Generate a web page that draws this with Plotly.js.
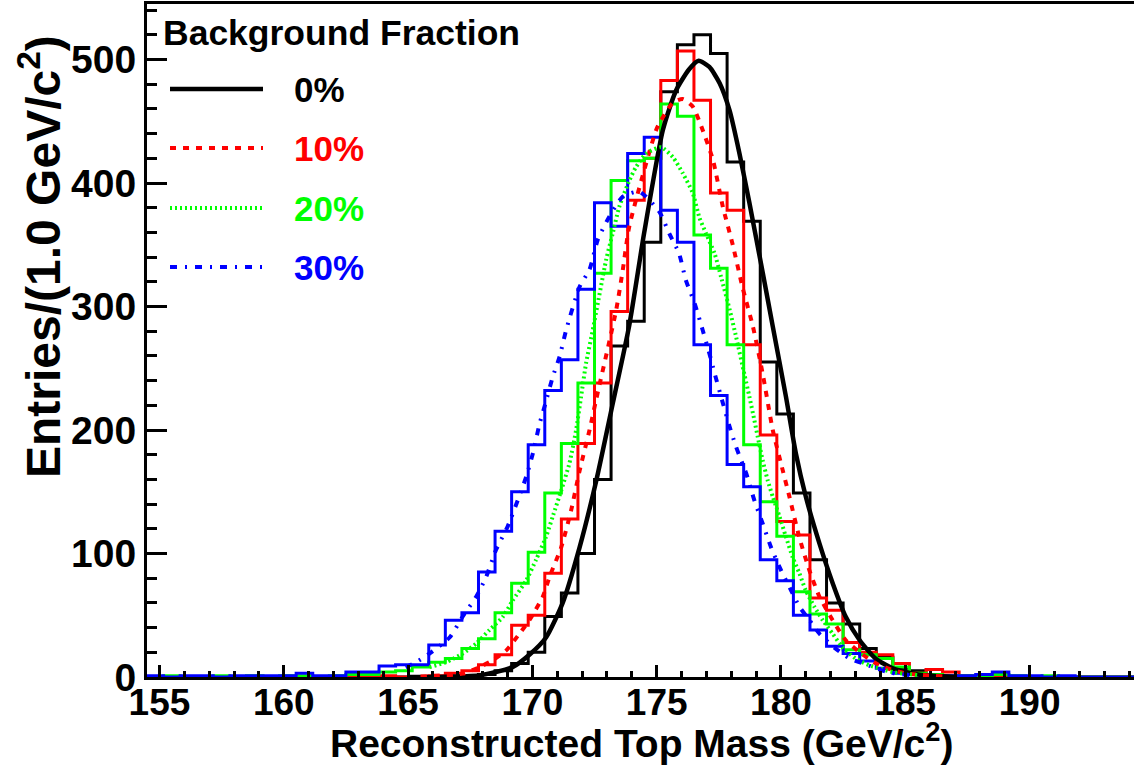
<!DOCTYPE html>
<html>
<head>
<meta charset="utf-8">
<script src="https://cdn.plot.ly/plotly-3.0.1.min.js"></script>
<style>
  html, body { margin: 0; padding: 0; background: #fff; overflow: hidden; }
  #plot { width: 1134px; height: 767px; }
</style>
</head>
<body>
<div id="plot"></div>
<script>
// histogram binning: 60 bins from 154.5 to 194.5 GeV/c^2
var binLow = 154.5;
var binWidth = 2 / 3;

// entries per bin (bin 0 starts at 154.5)
var hist0 = [0,0,0,0,0,0,0,0,0,0, 0,0,0,0,0,0,0,0,0,1,
             2,5,11,20,49,68,100,160,268,288, 352,474,512,520,505,417,369,255,213,149,
             95,60,43,23,16,7,5,2,1,1, 0,0,0,0,0,0,0,0,0,0];
var hist10 = [0,0,0,0,0,0,0,0,0,0, 0,0,0,0,1,0,0,1,3,5,
              10,18,42,50,84,128,189,238,296,386, 420,483,507,467,392,378,269,196,126,115,
              64,54,28,20,18,11,3,6,4,1, 1,0,0,0,0,0,0,0,0,0];
var hist20 = [0,1,0,0,1,0,1,0,1,1, 0,1,2,2,4,5,8,12,15,23,
              31,52,76,101,149,189,238,327,402,418, 420,464,454,358,331,269,188,142,114,69,
              51,43,22,18,15,8,3,2,1,1, 1,2,1,0,1,0,0,0,0,0];
var hist30 = [1,0,1,1,0,1,1,1,1,3, 1,1,4,4,9,10,10,26,46,52,
              85,118,150,188,232,257,314,384,365,424, 437,378,352,269,228,172,154,95,78,50,
              38,25,19,13,7,3,2,1,1,1, 2,4,1,1,0,1,0,0,0,0];

// fitted curves, points
var fit0X = [165.0, 166.5, 167.9, 169.2, 169.88, 170.55, 171.22, 171.9, 172.57, 173.24, 173.9, 174.5,
             175.25, 175.78, 176.3, 176.69, 177.12, 177.53, 177.93, 178.33, 178.73, 179.27, 179.67,
             180.2, 180.6, 181.0, 181.55, 182.08, 182.6, 183.16, 183.8, 184.5, 185.5, 187.0];
var fit0Y = [0, 0.3, 1.5, 8, 18, 32, 60, 105, 159, 222, 285, 360,
             443, 475, 492, 499, 494, 481, 459, 424, 384, 327, 284,
             227, 181, 146, 108, 76, 49, 30, 15, 7, 2, 0];

var fit10X = [165.5, 167.2, 167.87, 168.4, 168.95, 169.48, 169.88, 170.42, 170.69, 171.16, 171.56,
              171.9, 172.3, 172.57, 173.37, 173.64, 173.9, 174.98, 175.18, 175.65, 176.05, 176.45,
              176.85, 177.26, 177.66, 178.06, 178.46, 178.87, 179.27, 179.67, 180.0, 180.34, 180.74,
              181.15, 181.55, 182.08, 182.6, 183.3, 183.96, 185.0, 186.5];
var fit10Y = [0.5, 2.7, 8, 13.5, 21.6, 35, 46, 65, 81, 105, 135,
              167, 200, 225, 297, 330, 365, 443, 451, 465, 468, 462,
              443, 419, 381, 350, 315, 284, 245, 200, 173, 146, 113,
              86, 65, 46, 30, 18, 9.5, 3, 0.5];

var fit20X = [165.86, 166.53, 167.2, 167.74, 168.27, 168.81, 169.21, 169.75, 170.15, 170.55, 170.82,
              171.16, 171.49, 171.76, 171.96, 172.16, 172.43, 172.97, 173.23, 173.5, 173.9, 174.17,
              174.58, 175.18, 175.65, 176.05, 176.45, 176.72, 176.99, 177.33, 177.59, 177.93, 178.2,
              178.53, 178.73, 178.93, 179.07, 179.27, 179.47, 179.67, 179.94, 180.2, 180.47, 180.74,
              181.0, 181.34, 181.68, 182.08, 182.48, 183.0, 183.56, 184.5, 185.5];
var fit20Y = [8, 12, 19, 27, 38, 48.6, 62, 78, 95, 113.5, 130,
              151, 173, 200, 227, 254, 281, 338, 359, 381, 402, 413,
              424, 429, 421, 408, 392, 372, 359, 343, 324, 298, 275,
              245, 227, 208, 194, 175, 159, 146, 130, 113.5, 97, 84,
              70, 57, 46, 35, 24, 15, 9.5, 4, 1.5];

var fit30X = [164.9, 165.33, 165.86, 166.67, 167.2, 167.74, 168.14, 168.54, 169.01, 169.41, 169.75,
              170.02, 170.29, 170.49, 170.82, 171.09, 171.36, 171.9, 172.3, 172.63, 173.1, 173.64,
              174.3, 175.1, 175.51, 175.9, 176.18, 176.52, 176.85, 177.12, 177.33, 177.66, 177.93,
              178.2, 178.6, 178.93, 179.27, 179.6, 180.0, 180.41, 180.74, 181.15, 181.55, 182.2,
              182.76, 183.3, 184.3, 185.5];
var fit30Y = [8, 12, 19, 32, 49, 65, 81, 103, 122, 143, 162,
              181, 205, 219, 243, 259, 281, 316, 330, 354, 373, 389,
              393, 377, 359, 343, 321, 303, 281, 262, 246, 222, 203,
              186, 165, 143, 124, 105, 86.5, 70, 57, 46, 35, 23,
              15, 11, 4, 1];

var fractions = ['0%', '10%', '20%', '30%'];
var colors = ['#000000', '#ff0000', '#00ff00', '#0000ff'];
var dashes = ['solid', '6px,7px', '2px,3px', '7px,8px,2px,8px'];

var FONT = 'Liberation Sans, Arial, Helvetica, sans-serif';

function stepTrace(counts, color) {
  var xs = [];
  var ys = [];
  for (var i = 0; i < counts.length; i++) {
    xs.push(binLow + i * binWidth);
    ys.push(counts[i]);
  }
  xs.push(binLow + counts.length * binWidth);
  ys.push(counts[counts.length - 1]);
  return {
    x: xs, y: ys,
    type: 'scatter', mode: 'lines',
    line: {shape: 'hv', color: color, width: 3},
    hoverinfo: 'skip'
  };
}

function fitTrace(xs, ys, color, dash, w) {
  return {
    x: xs, y: ys,
    type: 'scatter', mode: 'lines',
    line: {shape: 'spline', smoothing: 0.6, color: color, dash: dash, width: w},
    hoverinfo: 'skip'
  };
}

var data = [
  stepTrace(hist0, colors[0]),
  stepTrace(hist10, colors[1]),
  stepTrace(hist20, colors[2]),
  stepTrace(hist30, colors[3]),
  fitTrace(fit0X, fit0Y, colors[0], dashes[0], 4.5),
  fitTrace(fit10X, fit10Y, colors[1], dashes[1], 4),
  fitTrace(fit20X, fit20Y, colors[2], dashes[2], 4),
  fitTrace(fit30X, fit30Y, colors[3], dashes[3], 4)
];

// pixel helpers for the hand-made legend (plot area is 147..1134 x 4..677)
function px(x) { return (x - 147) / 987; }
function py(y) { return (677 - y) / 673; }

var shapes = [];
var annotations = [];
var rowY = [89, 148, 208, 267];
for (var k = 0; k < fractions.length; k++) {
  shapes.push({
    type: 'line', xref: 'paper', yref: 'paper',
    x0: px(170), x1: px(263), y0: py(rowY[k]), y1: py(rowY[k]),
    line: {color: colors[k], width: k === 0 ? 4.5 : 4, dash: dashes[k]}
  });
  annotations.push({
    xref: 'paper', yref: 'paper', x: px(292), y: py(rowY[k]),
    xanchor: 'left', yanchor: 'middle', showarrow: false,
    text: fractions[k],
    font: {family: FONT, size: 35, color: colors[k], weight: 'bold'}
  });
}
annotations.push({
  xref: 'paper', yref: 'paper', x: px(161), y: py(33),
  xanchor: 'left', yanchor: 'middle', showarrow: false,
  text: 'Background Fraction',
  font: {family: FONT, size: 35.5, color: '#000', weight: 'bold'}
});
// axis titles
annotations.push({
  xref: 'paper', yref: 'paper', x: px(641), y: py(740),
  xanchor: 'center', yanchor: 'middle', showarrow: false,
  text: 'Reconstructed Top Mass (GeV/c<sup>2</sup>)',
  font: {family: FONT, size: 39, color: '#000', weight: 'bold'}
});
annotations.push({
  xref: 'paper', yref: 'paper', x: px(40), y: py(257),
  xanchor: 'center', yanchor: 'middle', showarrow: false, textangle: -90,
  text: 'Entries/(1.0 GeV/c<sup>2</sup>)',
  font: {family: FONT, size: 48, color: '#000', weight: 'bold'}
});

var layout = {
  width: 1134,
  height: 767,
  margin: {l: 147, r: 0, t: 4, b: 90, pad: 0},
  paper_bgcolor: '#fff',
  plot_bgcolor: '#fff',
  showlegend: false,
  font: {family: FONT, color: '#000'},
  xaxis: {
    range: [154.5, 194.2],
    showgrid: false, zeroline: false,
    showline: true, linecolor: '#000', linewidth: 3, mirror: true,
    ticks: 'inside', ticklen: 12, tickwidth: 3, tickcolor: '#000',
    tick0: 155, dtick: 5,
    ticklabelstandoff: -9,
    minor: {ticks: 'inside', dtick: 1, ticklen: 6, tickwidth: 3, tickcolor: '#000'},
    tickfont: {family: FONT, size: 37, color: '#000', weight: 'bold'}
  },
  yaxis: {
    range: [0, 545],
    showgrid: false, zeroline: false,
    showline: true, linecolor: '#000', linewidth: 3,
    ticks: 'inside', ticklen: 20, tickwidth: 3, tickcolor: '#000',
    tick0: 0, dtick: 100,
    minor: {ticks: 'inside', dtick: 20, ticklen: 10, tickwidth: 3, tickcolor: '#000'},
    tickfont: {family: FONT, size: 39, color: '#000', weight: 'bold'}
  },
  shapes: shapes,
  annotations: annotations
};

Plotly.newPlot('plot', data, layout, {staticPlot: true});
</script>
</body>
</html>
